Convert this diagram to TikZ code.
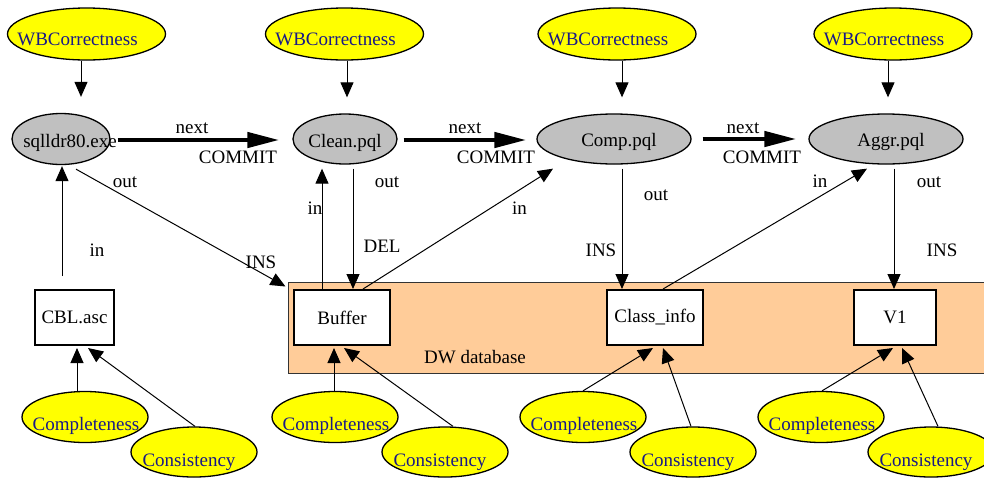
\documentclass[tikz,border=0pt]{standalone}
\usepackage{fontspec}
\setmainfont{Liberation Serif}
\usetikzlibrary{shapes.geometric,arrows.meta,calc}
\definecolor{qyellow}{RGB}{255,255,0}
\definecolor{qgray}{RGB}{192,192,192}
\definecolor{qpeach}{RGB}{255,204,153}
\definecolor{qnavy}{RGB}{25,25,135}
\begin{document}
\begin{tikzpicture}[x=1pt,y=1pt,
  font=\fontsize{19}{22}\selectfont,
  yell/.style={ellipse,draw=black,line width=1.3pt,fill=qyellow,inner sep=0pt},
  wbell/.style={yell,minimum width=158pt,minimum height=52pt},
  cmell/.style={yell,minimum width=126pt,minimum height=51pt},
  csell/.style={yell,minimum width=126pt,minimum height=50pt},
  ytext/.style={text=qnavy,anchor=base,inner sep=0pt},
  proc/.style={ellipse,draw=black,line width=1.3pt,fill=qgray,inner sep=0pt,minimum height=50pt},
  ptext/.style={anchor=base,inner sep=0pt},
  store/.style={draw=black,line width=2pt,fill=white,minimum height=55pt,inner sep=0pt},
  lbl/.style={anchor=base,inner sep=0pt},
  arr/.style={line width=1pt,-{Triangle[length=15pt,width=13pt]}},
  nextarr/.style={line width=4.5pt,-{Triangle[length=32pt,width=15pt]}}]
\useasboundingbox (0,0) rectangle (984,-477);

% warehouse area
\node[draw=black!80,line width=1pt,fill=qpeach,minimum width=702pt,minimum height=91pt,inner sep=0pt] (dw) at (639,-327.5) {};
\node[lbl] (dwt) at (475,-363) {DW database};

% well-behavedness checks
\node[wbell] (w1) at (86.5,-34) {};
\node[wbell] (w2) at (344.5,-34) {};
\node[wbell] (w3) at (617,-34) {};
\node[wbell] (w4) at (893,-34) {};
\foreach \n in {w1,w2,w3,w4}
  \node[ytext] (\n t) at ($(\n.center)+(-9,-11)$) {WBCorrectness};

% activities
\node[proc,minimum width=98pt,minimum height=51pt] (s) at (61,-139) {};
\node[proc,minimum width=104pt] (c) at (345,-139) {};
\node[proc,minimum width=154pt] (p) at (614,-139) {};
\node[proc,minimum width=154pt] (a) at (886,-139) {};
\node[ptext] (st) at ($(s.center)+(9,-8)$) {sqlldr80.exe};
\node[ptext] (ct) at ($(c.center)+(0,-8)$) {Clean.pql};
\node[ptext] (pt) at ($(p.center)+(5,-7.5)$) {Comp.pql};
\node[ptext] (at) at ($(a.center)+(5,-7.5)$) {Aggr.pql};

% recordsets
\node[store,minimum width=79pt] (cbl) at (74.5,-317.5) {CBL.asc};
\node[store,minimum width=96pt] (buf) at (342,-317.5) {Buffer};
\node[store,minimum width=96pt] (cls) at (655,-317.5) {Class\_info};
\node[store,minimum width=82pt] (v1) at (895,-317.5) {V1};

% quality checks on recordsets
\node[cmell] (cm1) at (85,-417) {};
\node[cmell] (cm2) at (335,-417) {};
\node[cmell] (cm3) at (583,-417) {};
\node[cmell] (cm4) at (821,-417) {};
\node[csell] (cs1) at (194,-452) {};
\node[csell] (cs2) at (445,-452) {};
\node[csell] (cs3) at (693,-452) {};
\node[csell] (cs4) at (931,-452) {};
\foreach \n in {cm1,cm2,cm3,cm4}
  \node[ytext] (\n t) at ($(\n.center)+(1,-13)$) {Completeness};
\foreach \n in {cs1,cs2,cs3,cs4}
  \node[ytext] (\n t) at ($(\n.center)+(-5,-14)$) {Consistency};

% checks attached to activities
\draw[arr] ($(w1.south)+(-5.5,0)$) -- ($(s.north)+(20,16)$);
\draw[arr] ($(w2.south)+(2.5,0)$) -- ($(c.north)+(2,16)$);
\draw[arr] ($(w3.south)+(5,0)$) -- ($(p.north)+(8,16)$);
\draw[arr] ($(w4.south)+(-5,0)$) -- ($(a.north)+(2,16)$);

% control flow
\draw[nextarr] ($(s.east)+(7,-1)$) -- ($(c.west)+(-13,-1)$);
\draw[nextarr] ($(c.east)+(6,-1)$) -- ($(p.west)+(-10,-1)$);
\draw[nextarr] ($(p.east)+(11,0)$) -- ($(a.west)+(-12,0)$);
\node[lbl] (n1) at (192,-133) {next};
\node[lbl] (m1) at (238,-163) {COMMIT};
\node[lbl] (n2) at (465,-133) {next};
\node[lbl] (m2) at (496,-163) {COMMIT};
\node[lbl] (n3) at (743,-133) {next};
\node[lbl] (m3) at (762,-163) {COMMIT};

% data flow
\draw[arr] ($(cbl.north)+(-12.5,13)$) -- ($(s.south)+(1,-1)$);
\node[lbl] (l1) at (97,-256) {in};

\draw[arr] ($(s.south)+(15,-4)$) -- ($(dw.north west)+(-2,-5)$);
\node[lbl] (l2) at (125,-187) {out};
\node[lbl] (l3) at (261,-268) {INS};

\draw[arr] ($(c.south)+(8,-4)$) -- ($(buf.north)+(11,0)$);
\node[lbl] (l4) at (387,-187) {out};
\node[lbl] (l5) at (382,-252) {DEL};

\draw[arr] ($(buf.north)+(-20,0)$) -- ($(c.south)+(-23,-4)$);
\node[lbl] (l6) at (315,-214) {in};

\draw[arr] ($(buf.north)+(21,0)$) -- ($(p.south)+(-61,-4)$);
\node[lbl] (l7) at (519.5,-214) {in};

\draw[arr] ($(p.south)+(8,-4)$) -- ($(cls.north)+(-33,0)$);
\node[lbl] (l8) at (656,-200) {out};
\node[lbl] (l9) at (601,-256) {INS};

\draw[arr] ($(cls.north)+(8,0)$) -- ($(a.south)+(-19,-4)$);
\node[lbl] (l10) at (820,-187) {in};

\draw[arr] ($(a.south)+(8,-4)$) -- ($(v1.north)+(-1,0)$);
\node[lbl] (l11) at (929,-187) {out};
\node[lbl] (l12) at (942,-256) {INS};

% quality checks
\draw[arr] ($(cm1.north)+(-8,0)$) -- ($(cbl.south)+(2.5,-2)$);
\draw[arr] ($(cs1.north)+(1,0)$) -- ($(cbl.south)+(13.5,-2)$);
\draw[arr] ($(cm2.north)+(-1,0)$) -- ($(buf.south)+(-8,-2)$);
\draw[arr] ($(cs2.north)+(8,0)$) -- ($(buf.south)+(2,-2)$);
\draw[arr] (cm3.north) -- ($(cls.south)+(-2,-2)$);
\draw[arr] ($(cs3.north)+(-2,0)$) -- ($(cls.south)+(8,-2)$);
\draw[arr] ($(cm4.north)+(1,0)$) -- ($(v1.south)+(-2,-2)$);
\draw[arr] ($(cs4.north)+(7,0)$) -- ($(v1.south)+(7,-2)$);
\end{tikzpicture}
\end{document}
